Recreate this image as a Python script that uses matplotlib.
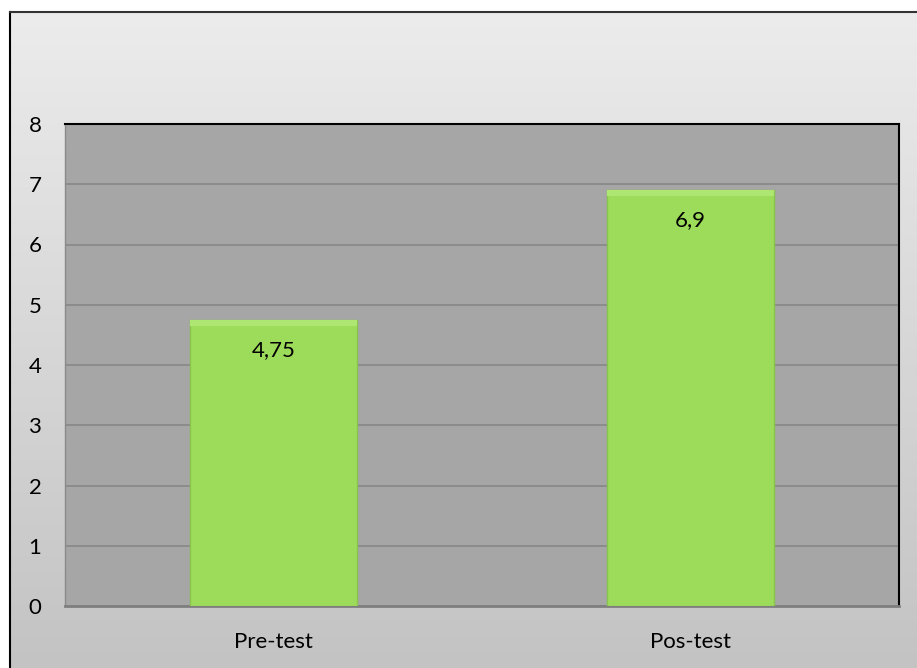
import numpy as np
import matplotlib.pyplot as plt
from matplotlib.lines import Line2D

categories = ["Pre-test", "Pos-test"]
values = [4.75, 6.9]
value_labels = ["4,75", "6,9"]
yticks = [0, 1, 2, 3, 4, 5, 6, 7, 8]

plt.rcParams['font.family'] = ['Lato', 'DejaVu Sans']

W, H = 917, 668
fig = plt.figure(figsize=(W / 100, H / 100), dpi=100)
fig.patch.set_facecolor("white")

# chart area background with vertical gradient
bg = fig.add_axes([10 / W, 0, 1 - 10 / W, 1 - 12 / H])
grad = np.linspace(0, 1, 256).reshape(-1, 1)
top_c = np.array([0.925, 0.925, 0.925])
bot_c = np.array([0.765, 0.765, 0.765])
img = top_c + (bot_c - top_c) * grad[:, :, None]
bg.imshow(img, aspect="auto", extent=[0, 1, 0, 1], origin="upper")
bg.set_xlim(0, 1)
bg.set_ylim(0, 1)
bg.axis("off")
fig.add_artist(Line2D([10 / W, 10 / W], [0, 1 - 12 / H], color="black", lw=1.5))
fig.add_artist(Line2D([10 / W, 1], [1 - 12 / H, 1 - 12 / H], color="#333333", lw=1.5))

ax = fig.add_axes([65 / W, (H - 606) / H, 834 / W, 482 / H])
ax.set_facecolor("#a6a6a6")
x = np.arange(len(categories))
bars = ax.bar(x, values, width=0.4, color="#9ddc5a", edgecolor="#88c44c", linewidth=1.0, zorder=3)

# subtle bevel along the top of each bar
for b in bars:
    ax.bar(b.get_x() + b.get_width() / 2, 0.1, bottom=b.get_height() - 0.1,
           width=b.get_width(), color="#aee672", linewidth=0, zorder=4)

for xi, v, lab in zip(x, values, value_labels):
    ax.text(xi, v - 0.5, lab, ha="center", va="center", fontsize=16, color="black", zorder=5)

ax.set_xlim(-0.5, 1.5)
ax.set_ylim(0, 8)
ax.set_yticks(yticks)
ax.set_xticks(x)
ax.set_xticklabels(categories)
ax.yaxis.grid(True, color="#878787", linewidth=1.2, zorder=0)
ax.set_axisbelow(True)
ax.tick_params(axis="both", length=0, labelsize=16, colors="black")
ax.tick_params(axis="y", pad=17)
ax.tick_params(axis="x", pad=19)

ax.spines["top"].set_color("black")
ax.spines["top"].set_linewidth(1.5)
ax.spines["right"].set_color("black")
ax.spines["right"].set_linewidth(1.5)
ax.spines["left"].set_color("#8a8a8a")
ax.spines["left"].set_linewidth(1.0)
ax.spines["bottom"].set_color("#7f7f7f")
ax.spines["bottom"].set_linewidth(2)

fig.savefig("out.png", dpi=100)
